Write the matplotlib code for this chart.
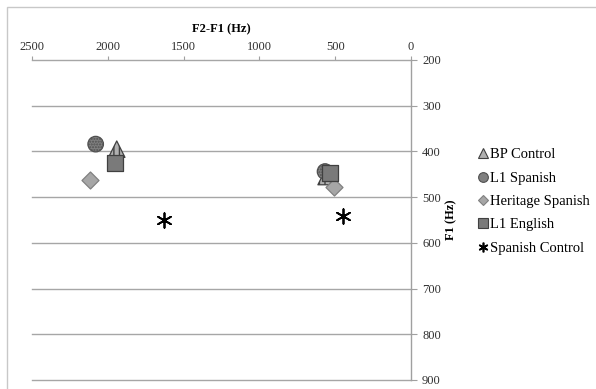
import matplotlib
matplotlib.use("Agg")
import matplotlib.pyplot as plt
from matplotlib.patches import Rectangle
from matplotlib.lines import Line2D

plt.rcParams['font.family'] = ['Liberation Serif', 'DejaVu Serif']

groups = ["BP Control", "L1 Spanish", "Heritage Spanish", "L1 English", "Spanish Control"]
# F2-F1 values (Hz) for two vowels per group
f2f1_a = [1941, 2080, 2117, 1952, 1627]
f1_a = [395, 384, 462, 426, 550]
f2f1_b = [560, 567, 508, 534, 451]
f1_b = [455, 444, 478, 448, 541]

x_ticks = [2500, 2000, 1500, 1000, 500, 0]
y_ticks = [200, 300, 400, 500, 600, 700, 800, 900]

ast6 = (6, 2, 0)
styles = {
    "BP Control": dict(marker="^", s=140, facecolor="#b0b0b0", edgecolor="#404040", hatch="|||", linewidths=0.9, zorder=3),
    "L1 Spanish": dict(marker="o", s=125, facecolor="#808080", edgecolor="#505050", hatch="......", linewidths=0.9, zorder=4),
    "Heritage Spanish": dict(marker="D", s=75, facecolor="#a6a6a6", edgecolor="#808080", linewidths=0.9, zorder=5),
    "L1 English": dict(marker="s", s=130, facecolor="#7a7a7a", edgecolor="#404040", linewidths=0.9, zorder=6),
    "Spanish Control": dict(marker=ast6, s=110, facecolor="black", edgecolor="black", linewidths=1.3, zorder=7),
}

W, H = 596, 389
fig = plt.figure(figsize=(W / 100, H / 100), dpi=100)
fig.patches.append(Rectangle((7 / W, -0.1), 1.2, 1 - 7 / H + 0.1, transform=fig.transFigure,
                             fill=False, edgecolor="#c8c8c8", linewidth=1.0, zorder=0))

ax = fig.add_axes([32 / W, 1 - 380 / H, (411 - 32) / W, (380 - 60) / H])
ax.set_xlim(2500, 0)
ax.set_ylim(900, 200)

for i, g in enumerate(groups):
    st = dict(styles[g])
    ax.scatter([f2f1_a[i], f2f1_b[i]], [f1_a[i], f1_b[i]], **st)

ax.set_xticks(x_ticks)
ax.set_yticks(y_ticks)
ax.xaxis.tick_top()
ax.yaxis.tick_right()
ax.tick_params(axis='x', direction='out', length=3, width=0.8, color="#a0a0a0",
               labelsize=9, labelcolor="#303030", pad=2)
ax.tick_params(axis='y', direction='out', length=4, width=0.8, color="#a0a0a0",
               labelsize=9, labelcolor="#303030", pad=4)
ax.xaxis.set_label_position('top')
ax.set_xlabel("F2-F1 (Hz)", fontsize=9, fontweight='bold', labelpad=6)
ax.yaxis.set_label_position('right')
ax.set_ylabel("F1 (Hz)", fontsize=9, fontweight='bold', labelpad=3)

ax.grid(axis='y', color="#a6a6a6", linewidth=1.0)
for gl in ax.yaxis.get_gridlines():
    gl.set_clip_on(False)
ax.set_axisbelow(True)
for sp in ['left', 'bottom', 'top']:
    ax.spines[sp].set_visible(False)
ax.spines['right'].set_color("#a0a0a0")
ax.spines['right'].set_linewidth(1.0)

handles = []
leg_sizes = {"BP Control": 7, "L1 Spanish": 7, "Heritage Spanish": 5.5, "L1 English": 7, "Spanish Control": 7}
for g in groups:
    st = styles[g]
    h = Line2D([], [], linestyle='none', marker=st["marker"], markersize=leg_sizes[g],
               markerfacecolor=st["facecolor"], markeredgecolor=st["edgecolor"],
               markeredgewidth=1.2 if g == "Spanish Control" else 0.8)
    handles.append(h)
fig.legend(handles, groups, loc='upper left', bbox_to_anchor=(479 / W, 1 - 148 / H),
           frameon=False, fontsize=10.5, handlelength=0.6, handletextpad=0.15,
           labelspacing=0.7, borderpad=0, borderaxespad=0)

fig.savefig("out.png", dpi=100)
